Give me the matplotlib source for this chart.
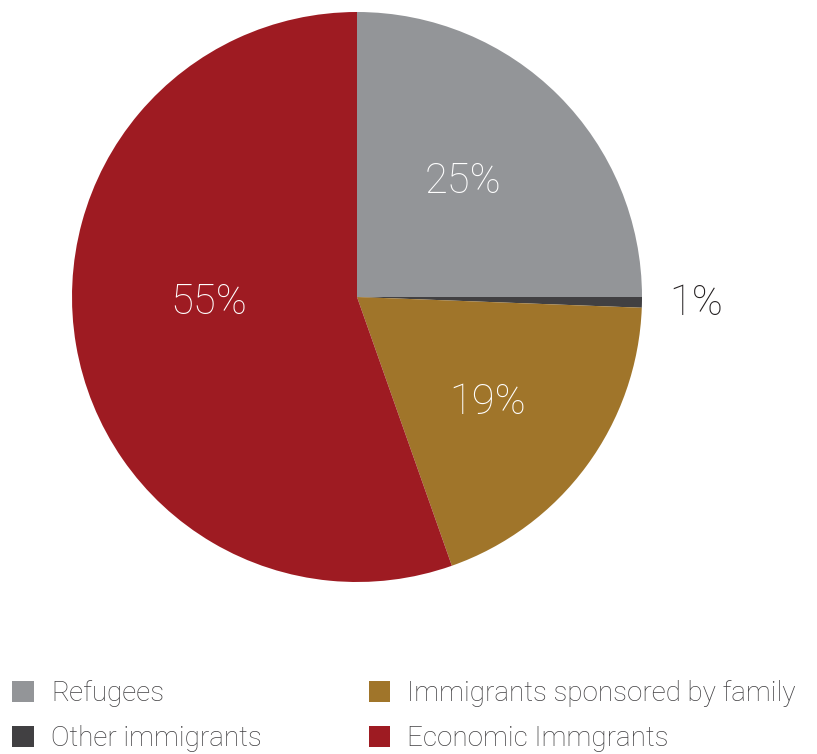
import matplotlib
matplotlib.use("Agg")
import matplotlib.pyplot as plt
import numpy as np

categories = ["Refugees", "Other immigrants", "Immigrants sponsored by family", "Economic Immgrants"]
values = [25.0, 0.6, 19.0, 55.4]
pct_labels = ["25%", "1%", "19%", "55%"]
colors = ["#939598", "#414042", "#A0752A", "#9E1B22"]

plt.rcParams['font.family'] = ['Roboto', 'DejaVu Sans']

fig = plt.figure(figsize=(8.17, 7.54), dpi=100)
ax = fig.add_axes([357/817 - 285/817, (754-582)/754, 570/817, 570/754])
wedges, _ = ax.pie(values, colors=colors, startangle=90, counterclock=False,
                   radius=1.0, wedgeprops=dict(linewidth=0))
ax.set_xlim(-1, 1)
ax.set_ylim(-1, 1)
ax.set_aspect('equal')
ax.axis('off')

# label placement (radius, angle offset deg) relative to wedge mid-angle
label_style = [(0.55, 2.5, 'white'), (1.19, 0.0, '#231F20'), (0.59, -2.5, 'white'), (0.52, -7.5, 'white')]
for w, lab, (r, dth, c) in zip(wedges, pct_labels, label_style):
    mid = np.deg2rad((w.theta1 + w.theta2) / 2 + dth)
    ax.text(r * np.cos(mid), r * np.sin(mid), lab, ha='center', va='center',
            fontsize=30, fontweight='light', color=c)

leg = fig.legend(wedges, categories, ncol=2, loc='upper left',
                 bbox_to_anchor=(12/817, (754-680)/754), frameon=False,
                 borderpad=0, borderaxespad=0,
                 prop=dict(size=20, weight='light'), labelcolor='#414042',
                 handlelength=0.78, handleheight=0.78,
                 handletextpad=0.62, columnspacing=3.85, labelspacing=0.65)
fig.savefig("out.png", dpi=100)
